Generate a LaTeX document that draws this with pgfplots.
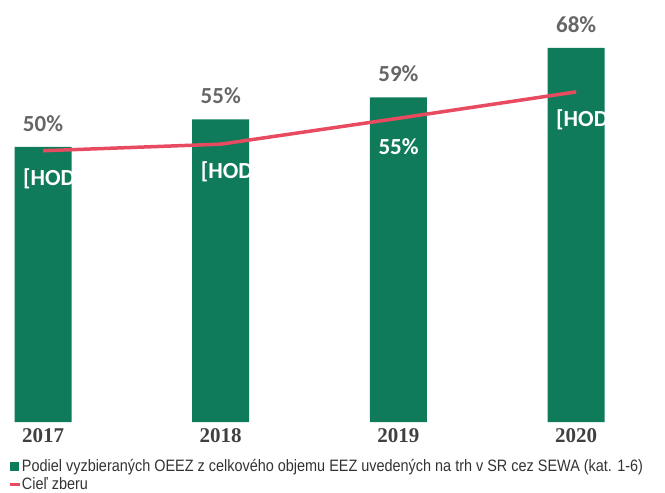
\documentclass[border=0pt]{standalone}
\usepackage{fontspec}
\usepackage{pgfplots}
\pgfplotsset{compat=1.18}
\newfontfamily\carlito{Carlito}
\newfontfamily\yearfont{Liberation Serif}
\newfontfamily\narrow[FakeStretch=0.875]{Liberation Sans}
\definecolor{barG}{HTML}{0F7B5A}
\definecolor{lineR}{HTML}{E84A5F}
\definecolor{lblG}{HTML}{666666}
\begin{document}
\begin{tikzpicture}
\clip (0,0) rectangle (665pt,-493pt);
\begin{axis}[
    at={(0,0)}, anchor=north west,
    scale only axis,
    width=665pt, height=422pt,
    xmin=-0.242, xmax=3.50,
    ymin=0, ymax=76.7,
    axis line style={draw=none},
    ytick=\empty,
    xtick={0,1,2,3},
    xticklabels={2017,2018,2019,2020},
    major tick length=0pt,
    xticklabel style={font=\yearfont\bfseries\fontsize{21}{21}\selectfont, text=black!75, yshift=-3pt},
    /pgf/number format/assume math mode=true,
    clip=false,
    legend style={draw=none, fill=none, at={(axis description cs:0.012,-0.087)}, anchor=north west,
        font=\narrow\fontsize{16.5}{17}\selectfont, text=black!80, row sep=2.5pt, inner sep=0pt,
        nodes={inner sep=0.8pt}},
    legend cell align=left,
]
\addplot[ybar, bar width=57pt, bar shift=0pt, fill=barG, draw=none,
    nodes near coords={\pgfmathprintnumber{\pgfplotspointmeta}\%},
    every node near coord/.style={font=\carlito\bfseries\fontsize{23}{23}\selectfont, text=lblG, anchor=south, yshift=12pt},
    legend image code/.code={\fill[barG] (0pt,-4.5pt) rectangle (9pt,4.5pt);}]
    coordinates {(0,50) (1,55) (2,59) (3,68)};
\addlegendentry{Podiel vyzbieraných OEEZ z celkového objemu EEZ uvedených na trh v SR cez SEWA (kat. 1-6)}
\addplot[sharp plot, lineR, line width=3.5pt, mark=none,
    point meta=explicit symbolic,
    nodes near coords,
    every node near coord/.style={font=\carlito\bfseries\fontsize{23}{23}\selectfont, text=white, anchor=west, xshift=-25pt, yshift=-28pt},
    legend image code/.code={\draw[lineR, line width=3pt] (0pt,0pt) -- (10pt,0pt);}]
    coordinates {(0,49.3)[{[HODNOTA]}] (1,50.5)[{[HODNOTA]}] (2,55.2)[{55\%}] (3,60)[{[HODNOTA]}]};
\addlegendentry{Cieľ zberu}
\end{axis}
\end{tikzpicture}
\end{document}
